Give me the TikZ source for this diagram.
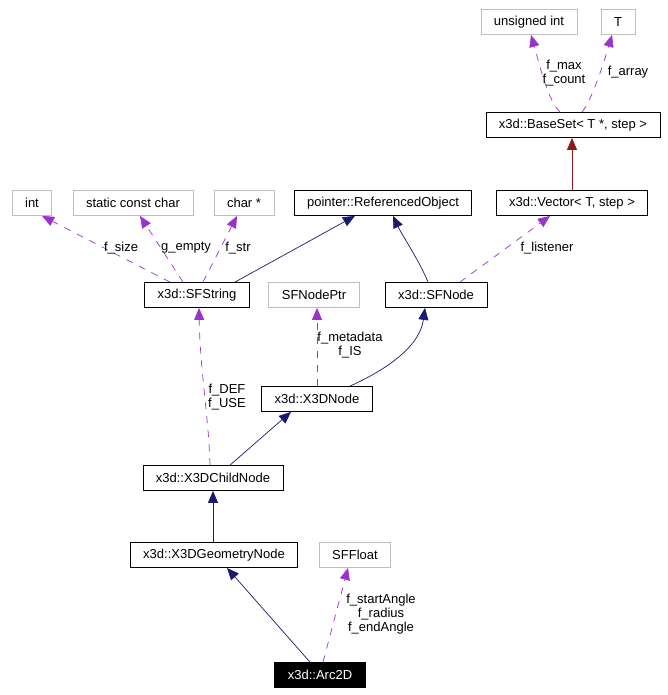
\documentclass[tikz,border=0pt]{standalone}
\usepackage{fontspec}
\setmainfont{Liberation Sans}
\usetikzlibrary{arrows.meta}
\definecolor{inhcol}{HTML}{191970}
\definecolor{memcol}{HTML}{9A32CD}
\definecolor{tplcol}{HTML}{8B1A1A}
\definecolor{extcol}{HTML}{BFBFBF}
\tikzset{
	cls/.style={draw=black,line width=0.8pt,inner xsep=13pt,inner ysep=0pt,minimum height=25pt,font=\fontsize{13}{14}\selectfont},
	ext/.style={cls,draw=extcol},
	cur/.style={cls,fill=black,text=white},
	inh/.style={draw=inhcol,line width=0.7pt,-{Triangle[length=12pt,width=10pt,fill=inhcol]}},
	tpl/.style={draw=tplcol,line width=0.7pt,-{Triangle[length=12pt,width=10pt,fill=tplcol]}},
	memb/.style={draw=memcol,line width=0.7pt,dash pattern=on 7pt off 7pt,-{Triangle[length=12pt,width=10pt,fill=memcol]}},
	lbl/.style={align=center,inner sep=0pt,font=\fontsize{13}{14}\selectfont}
}
\begin{document}
\begin{tikzpicture}[x=1pt,y=-1pt]
			\useasboundingbox (0,0) rectangle (668,695);
			\node[ext] (uint) at (529,22) {unsigned int};
			\node[ext] (tt) at (618,22) {T};
			\node[cls] (baseset) at (573,125) {x3d::BaseSet< T *, step >};
			\node[cls] (vector) at (572,203) {x3d::Vector< T, step >};
			\node[cls] (refobj) at (383,203) {pointer::ReferencedObject};
			\node[ext] (int) at (32,203) {int};
			\node[ext] (scc) at (133,203) {static const char};
			\node[ext] (charp) at (244,203) {char *};
			\node[cls] (sfstring) at (197,295) {x3d::SFString};
			\node[ext] (sfnodeptr) at (314,295) {SFNodePtr};
			\node[cls] (sfnode) at (436,295) {x3d::SFNode};
			\node[cls] (x3dnode) at (317,399) {x3d::X3DNode};
			\node[cls] (child) at (213,478) {x3d::X3DChildNode};
			\node[cls] (geom) at (214,555) {x3d::X3DGeometryNode};
			\node[ext] (sffloat) at (355,555) {SFFloat};
			\node[cur] (arc) at (320,675) {x3d::Arc2D};
			
			\draw[memb] ([xshift=-13pt]baseset.north) .. controls (548,100) and (541,70) .. ([xshift=2pt]uint.south);
			\node[lbl] (lmax) at (564,73) {f\_max\\f\_count};
			\draw[memb] ([xshift=9pt]baseset.north) .. controls (592,100) and (604,62) .. ([xshift=-6pt]tt.south);
			\node[lbl] (larray) at (628,72) {f\_array};
			\draw[tpl] (vector.north) -- (vector.north |- baseset.south);
			
			\draw[inh] ([xshift=38pt]sfstring.north) -- ([xshift=-28pt]refobj.south);
			\draw[inh] ([xshift=-8pt]sfnode.north) .. controls (420,262) and (402,235) .. ([xshift=10pt]refobj.south);
			\draw[memb] ([xshift=24pt]sfnode.north) -- ([xshift=-22pt]vector.south);
			\node[lbl] (llistener) at (547,248) {f\_listener};
			
			\draw[memb] ([xshift=-27pt]sfstring.north) -- ([xshift=10pt]int.south);
			\node[lbl] (lsize) at (121,248) {f\_size};
			\draw[memb] ([xshift=-14pt]sfstring.north) -- ([xshift=7pt]scc.south);
			\node[lbl] (lempty) at (186,248) {g\_empty};
			\draw[memb] ([xshift=6pt]sfstring.north) -- ([xshift=-7pt]charp.south);
			\node[lbl] (lstr) at (238,248) {f\_str};
			
			\draw[memb] ([xshift=-3pt]child.north) .. controls (209,420) and (200,370) .. ([xshift=2pt]sfstring.south);
			\node[lbl] (ldef) at (227,397) {f\_DEF\\f\_USE};
			\draw[memb] (x3dnode.north) -- (x3dnode.north |- sfnodeptr.south);
			\node[lbl] (lmeta) at (350,345) {f\_metadata\\f\_IS};
			\draw[inh] ([xshift=33pt]x3dnode.north) .. controls (390,368) and (420,345) .. ([xshift=-11pt]sfnode.south);
			
			\draw[inh] ([xshift=17pt]child.north) -- ([xshift=-26pt]x3dnode.south);
			\draw[inh] (geom.north -| child.south) -- (child.south);
			\draw[inh] ([xshift=-10pt]arc.north) -- ([xshift=13pt]geom.south);
			\draw[memb] ([xshift=3pt]arc.north) -- ([xshift=-7pt]sffloat.south);
			\node[lbl] (langle) at (381,614) {f\_startAngle\\f\_radius\\f\_endAngle};
			
		\end{tikzpicture}
\end{document}
